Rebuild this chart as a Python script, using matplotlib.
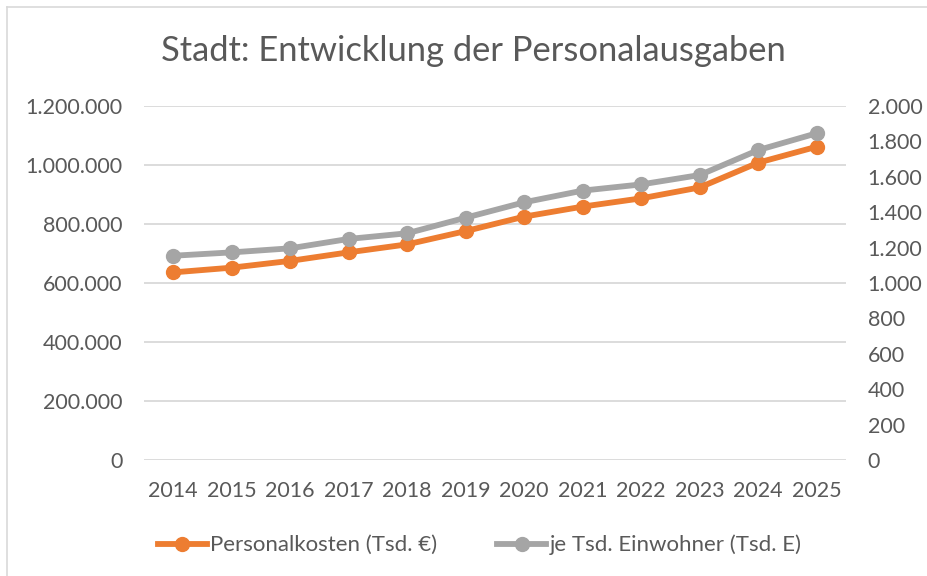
import matplotlib
matplotlib.use("Agg")
import matplotlib.pyplot as plt
from matplotlib.ticker import FuncFormatter
from matplotlib.lines import Line2D

plt.rcParams['font.family'] = ['Lato', 'DejaVu Sans']

years = ["2014", "2015", "2016", "2017", "2018", "2019", "2020", "2021", "2022", "2023", "2024", "2025"]
personalkosten = [636000, 652000, 675000, 704000, 731000, 776000, 825000, 859000, 887000, 924000, 1008000, 1062000]
je_einwohner = [1154, 1173, 1196, 1249, 1281, 1369, 1456, 1522, 1557, 1610, 1751, 1846]
left_ticks = [0, 200000, 400000, 600000, 800000, 1000000, 1200000]
right_ticks = [0, 200, 400, 600, 800, 1000, 1200, 1400, 1600, 1800, 2000]
title = "Stadt: Entwicklung der Personalausgaben"
label1 = "Personalkosten (Tsd. €)"
label2 = "je Tsd. Einwohner (Tsd. E)"

ORANGE = "#ED7D31"
GRAY = "#A5A5A5"
TXT = "#595959"
GRID = "#D9D9D9"

W, H = 928, 576
fig = plt.figure(figsize=(W / 100, H / 100), dpi=100)
ax = fig.add_axes([144 / W, 1 - 460 / H, (846 - 144) / W, (460 - 106) / H])
ax2 = ax.twinx()

def de_fmt(v, pos=None):
    return f"{int(round(v)):,}".replace(",", ".")

x = list(range(len(years)))
ax.plot(x, personalkosten, color=ORANGE, lw=4.2, marker="o", ms=10, solid_capstyle="round", zorder=3)
ax2.plot(x, je_einwohner, color=GRAY, lw=4.2, marker="o", ms=10, solid_capstyle="round", zorder=3)

ax.set_xlim(-0.5, len(years) - 0.5)
ax.set_ylim(0, 1200000)
ax2.set_ylim(0, 2000)
ax.set_yticks(left_ticks)
ax2.set_yticks(right_ticks)
ax.yaxis.set_major_formatter(FuncFormatter(de_fmt))
ax2.yaxis.set_major_formatter(FuncFormatter(de_fmt))
ax.set_xticks(x)
ax.set_xticklabels(years)

ax.grid(axis="y", color=GRID, lw=1.3)
ax.set_axisbelow(True)
for a in (ax, ax2):
    for s in a.spines.values():
        s.set_visible(False)
    a.tick_params(length=0, labelsize=15.5, colors=TXT)
ax.tick_params(axis="y", pad=15.5)
ax2.tick_params(axis="y", pad=15.5)
ax.tick_params(axis="x", pad=15)
ax2.set_zorder(ax.get_zorder() + 1)
ax2.patch.set_visible(False)

fig.text(473 / W, 1 - 51 / H, title, ha="center", va="center", fontsize=24.8, color=TXT)

# chart border (left & top visible)
fig.add_artist(Line2D([7 / W, 7 / W], [0, 1 - 7 / H], color=GRID, lw=1.2))
fig.add_artist(Line2D([7 / W, 1], [1 - 7 / H, 1 - 7 / H], color=GRID, lw=1.2))

h1 = Line2D([], [], color=ORANGE, lw=4.2, marker="o", ms=10)
h2 = Line2D([], [], color=GRAY, lw=4.2, marker="o", ms=10)
fig.legend([h1, h2], [label1, label2], loc="center", bbox_to_anchor=(0.517, 1 - 545 / H),
           ncol=2, frameon=False, fontsize=16, labelcolor=TXT, handlelength=2.2,
           handletextpad=0.15, columnspacing=2.7)

fig.savefig("out.png", dpi=100, facecolor="white")
